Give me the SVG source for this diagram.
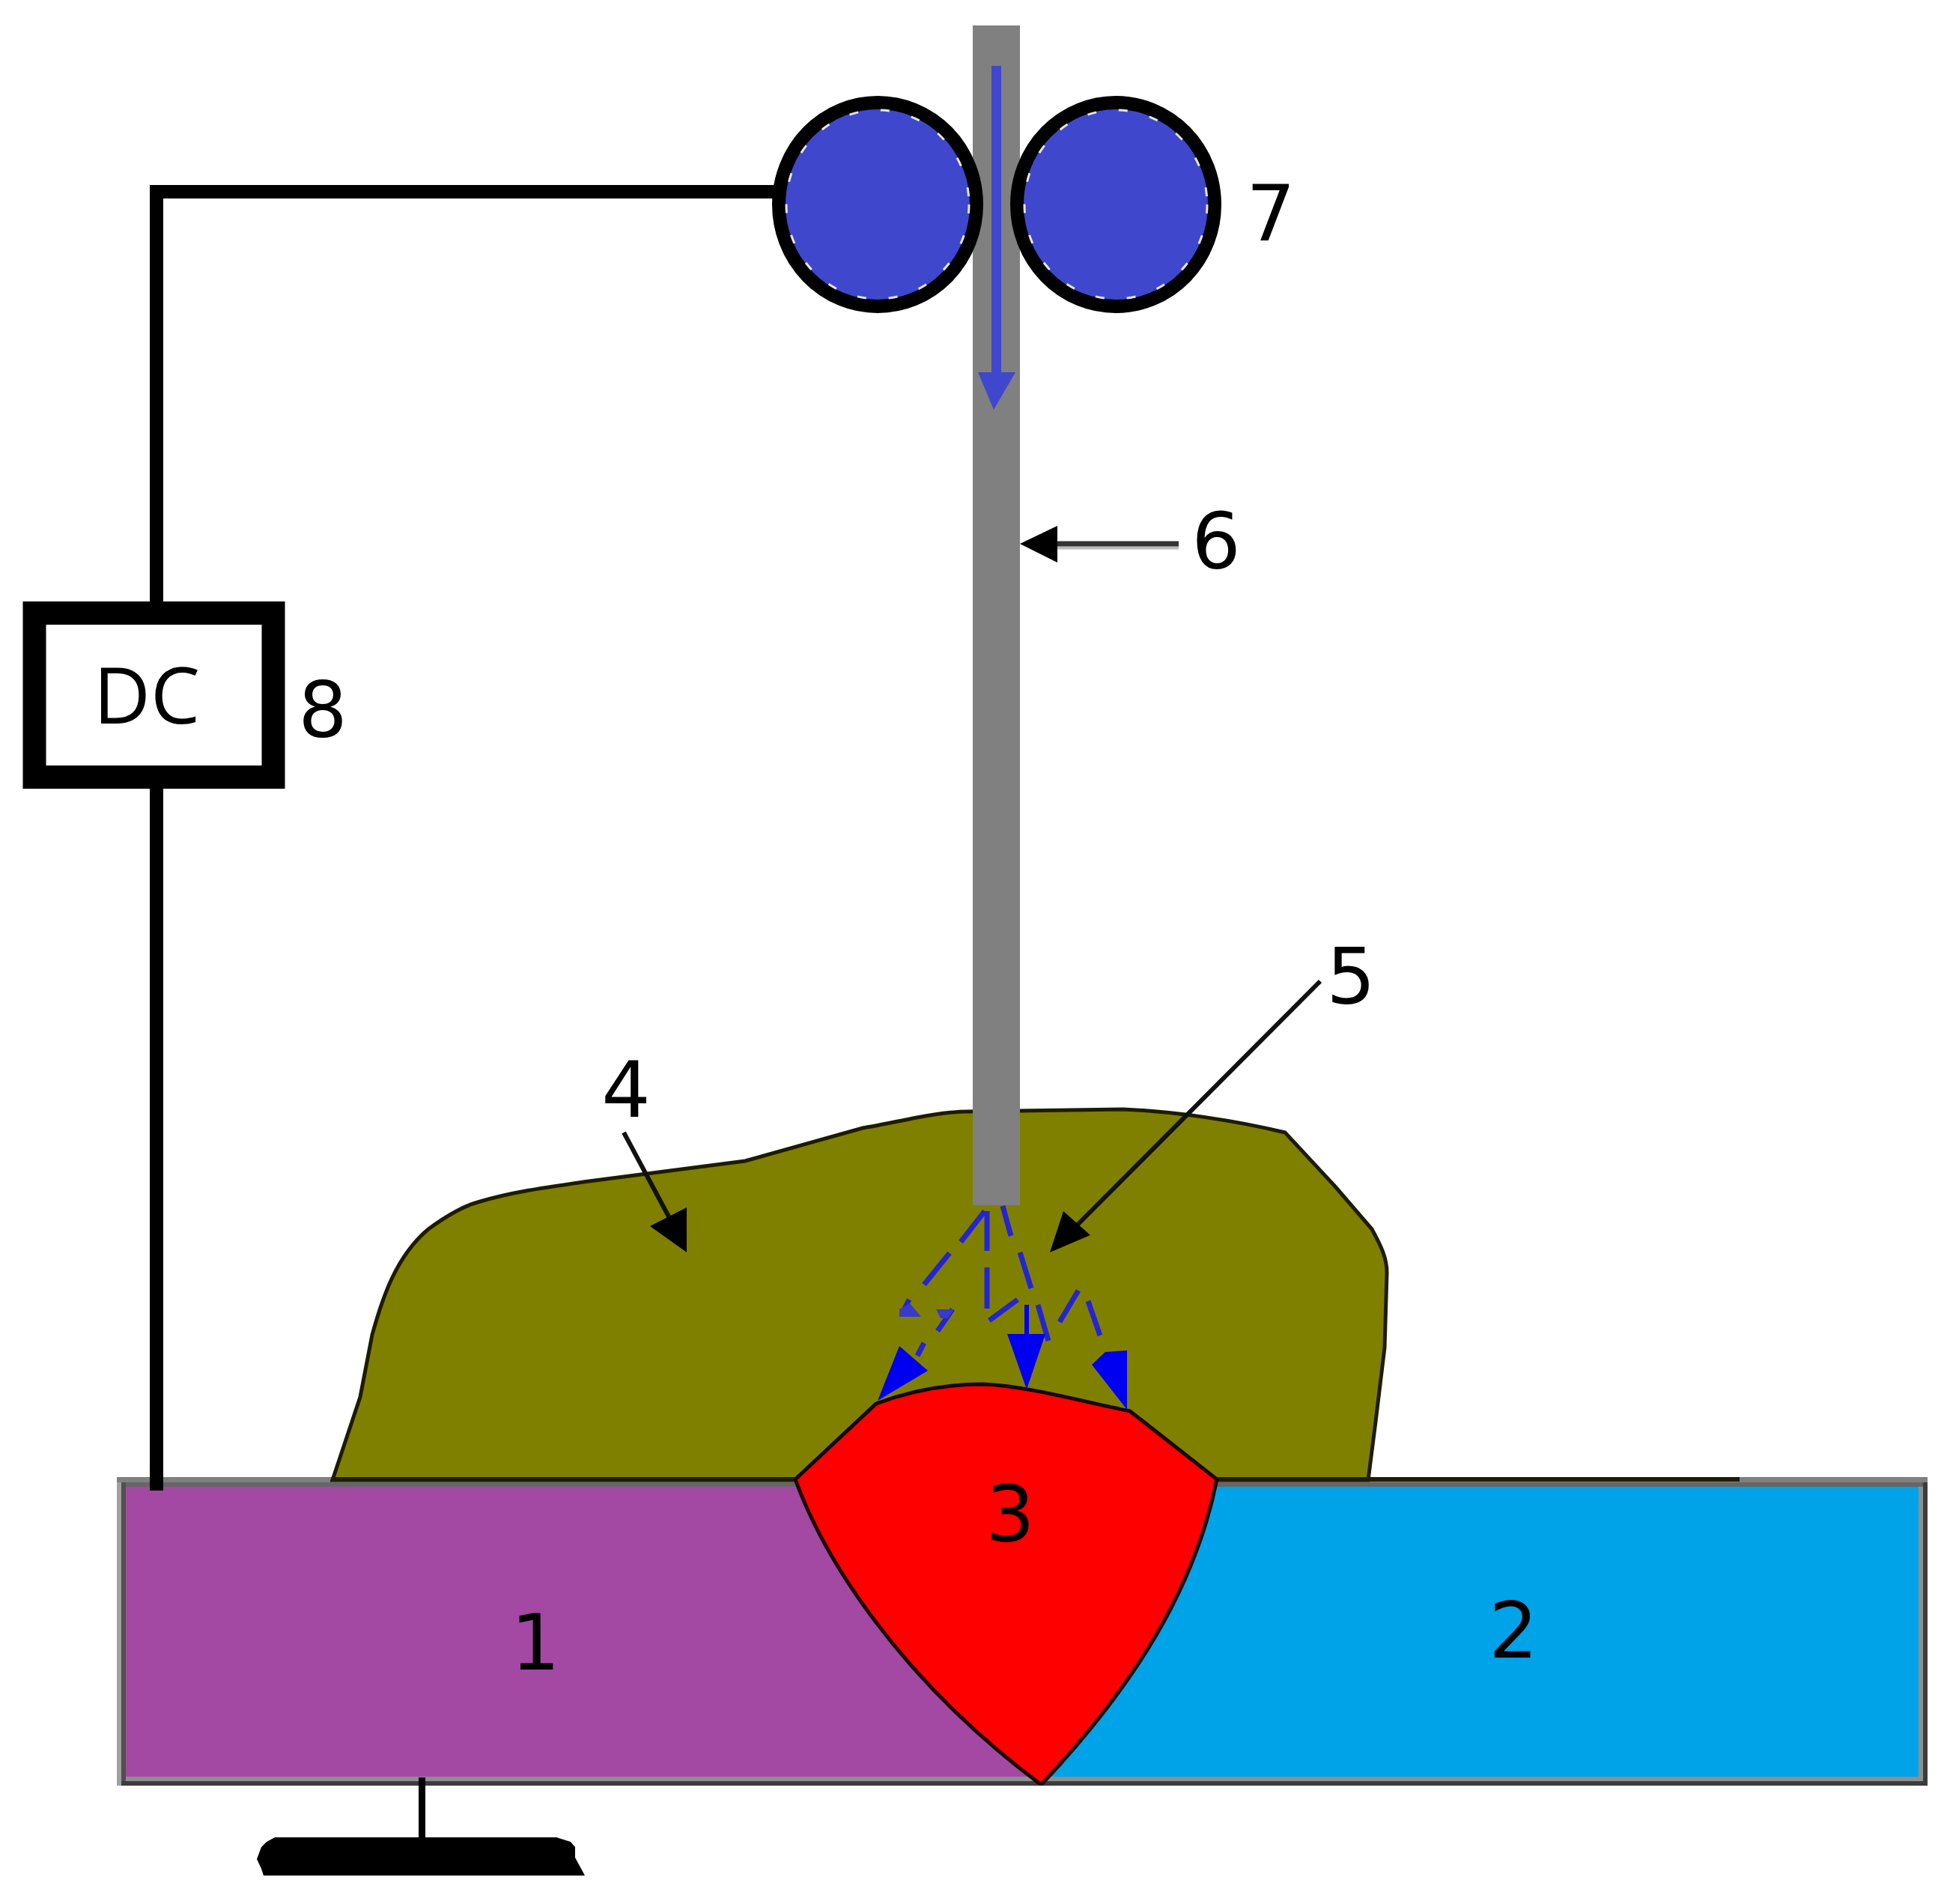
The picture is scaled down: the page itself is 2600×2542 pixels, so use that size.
<svg xmlns="http://www.w3.org/2000/svg" width="2600" height="2542" viewBox="0 0 2600 2542">
<style>
text{font-family:"DejaVu Sans","Liberation Sans",sans-serif;font-size:103px;fill:#000;text-anchor:middle}
text.dc{font-family:"Open Sans","Liberation Sans",sans-serif;font-size:105px}
.wire{fill:none;stroke:#000;stroke-width:18}
.ring{fill:#3f48cc;stroke:#000;stroke-width:18}
.dot{fill:none;stroke:#e4e4e4;stroke-width:3;stroke-dasharray:12 30}
.thin{fill:none;stroke:#111;stroke-width:6}
.spray{fill:none;stroke:#2424d4;stroke-width:7}
.solid{fill:#0000f0}
.feed{fill:#3f48cc}
</style>
<rect width="2600" height="2542" fill="#fff"/>
<g id="workpiece-1"><rect x="160" y="1980" width="1240" height="398" fill="#a349a4"/></g>
<g id="workpiece-2"><rect x="1390" y="1980" width="1178" height="398" fill="#00a2e8"/></g>
<g id="plate-edges">
<path d="M156 1972H2574V1979H156Z" fill="#808080"/>
<path d="M156 1979H2574V1985H156Z" fill="#666"/>
<path d="M156 1979H162V2384H156Z" fill="#a0a0a0"/>
<path d="M162 1979H168V2378H162Z" fill="#505050"/>
<path d="M168 2372H2568V2378H168Z" fill="#8f8f8f"/>
<path d="M162 2378H2574V2384H162Z" fill="#3c3c3c"/>
<path d="M2562 1985H2568V2378H2562Z" fill="#8f8f8f"/>
<path d="M2568 1979H2574V2384H2568Z" fill="#3c3c3c"/>
</g>
<g id="shield-gas"><path d="M444 1976L481 1865 497 1782C510 1735 528 1678 572 1641 598 1622 620 1610 638 1605 680 1592 730 1585 779 1578L995 1550 1152 1506C1200 1498 1250 1484 1293 1484L1500 1481C1570 1484 1650 1496 1716 1512L1782 1583 1832 1641C1845 1665 1852 1680 1852 1699L1849 1799 1837 1898 1827 1976Z" fill="#808000" stroke="#1c1c00" stroke-width="5"/></g>
<path d="M444 1975H1062M1625 1975H2323" fill="none" stroke="#201c00" stroke-width="6"/>
<g id="weld"><path d="M1062 1975L1170 1874C1215 1857 1265 1848 1312 1848 1370 1850 1440 1870 1509 1884L1625 1975C1596 2120 1515 2250 1392 2381H1388C1200 2240 1100 2080 1062 1975Z" fill="#f00" stroke="#1a0505" stroke-width="5"/></g>
<g id="electrode"><rect x="1299" y="34" width="63" height="1575" fill="#808080"/></g>
<g id="roller-left"><ellipse cx="1172" cy="273" rx="132" ry="136" class="ring"/><ellipse cx="1172" cy="273" rx="122" ry="126" class="dot"/></g>
<g id="roller-right"><ellipse cx="1490" cy="273" rx="132" ry="136" class="ring"/><ellipse cx="1490" cy="273" rx="122" ry="126" class="dot"/></g>
<g id="connectors">
<path class="wire" d="M1038 256H209V803M209 1053V1990"/>
<path d="M563.500 2373V2453" fill="none" stroke="#000" stroke-width="9"/>
<path d="M1330.500 88V497" fill="none" stroke="#3f48cc" stroke-width="13"/>
<path class="feed" d="M1306 497H1356L1327 547Z"/>
<path d="M1405 731.500H1574" fill="none" stroke="#bbb" stroke-width="4"/>
<path d="M1405 726H1574" fill="none" stroke="#333" stroke-width="7"/>
<path d="M1362 726L1412 702V751Z"/>
<path d="M833 1512L895 1628" class="thin"/><path d="M868 1637L917 1612V1672Z"/>
<path d="M1763 1310L1438 1636" class="thin"/><path d="M1420 1617L1456 1649 1402 1672Z"/>
<path class="spray" d="M1315 1617L1283 1658M1318 1617V1670M1339 1610L1350 1650M1268 1673L1234 1715M1318 1692V1747M1362 1672L1377 1720M1214 1735L1205 1753M1272 1748L1252 1777M1359 1735L1321 1763M1386 1742L1400 1790M1440 1723L1415 1765M1453 1737L1469 1783M1234 1793L1225 1810"/>
<path d="M1201 1748L1215 1740 1230 1758H1201ZM1250 1748H1274L1266 1760H1256Z" fill="#3a3ac8"/>
<path d="M1371 1742V1785" fill="none" stroke="#0000f0" stroke-width="6"/>
<path class="solid" d="M1345 1781H1396L1371 1855Z"/>
<path class="solid" d="M1201 1797L1239 1830 1172 1870Z"/>
<path class="solid" d="M1476 1805L1505 1803V1882L1458 1822Z"/>
</g>
<g id="ground"><path d="M367 2453H743L762 2459 768 2466V2480L781 2504H352L349 2495 343 2482 349 2466 356 2459Z"/></g>
<g id="dc-source"><rect x="46" y="818.500" width="319" height="219" fill="#fff" stroke="#000" stroke-width="31"/><text class="dc" x="196" y="966">DC</text></g>
<g id="labels">
<text x="715" y="2229">1</text>
<text x="2021" y="2213">2</text>
<text x="1349" y="2058">3</text>
<text x="836" y="1491">4</text>
<text x="1804" y="1340">5</text>
<text x="1624" y="759">6</text>
<text x="1697" y="321">7</text>
<text x="431" y="984">8</text>
</g>
</svg>
